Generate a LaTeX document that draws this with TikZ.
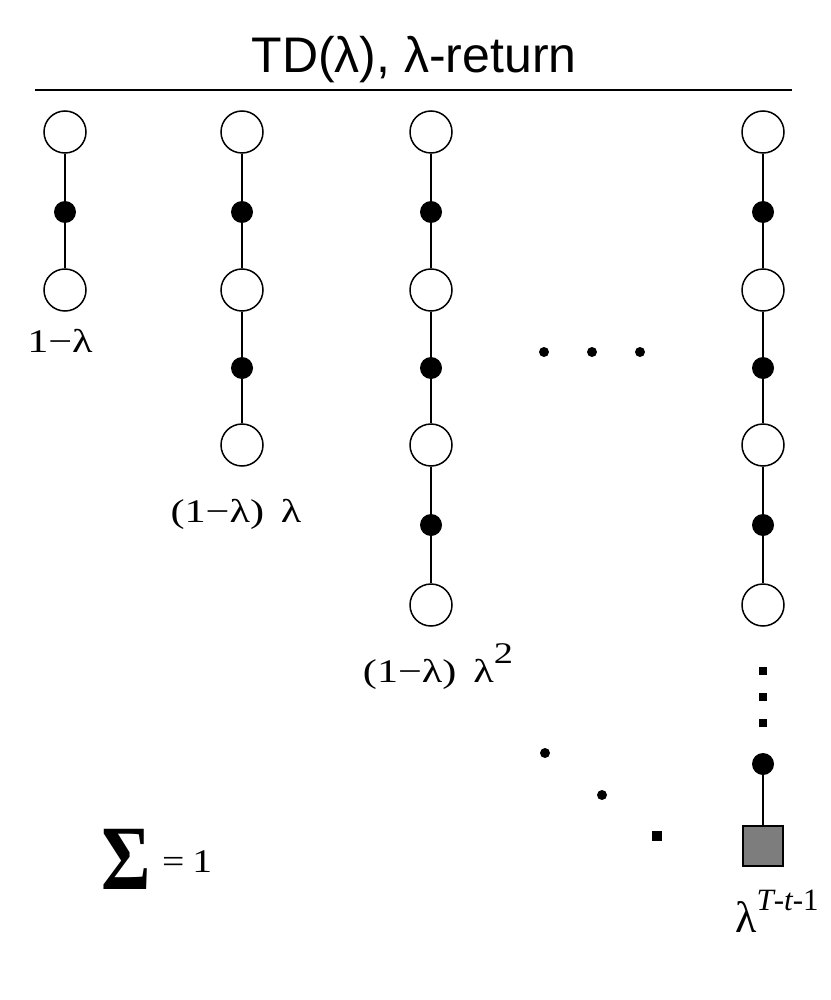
\documentclass[tikz,border=0pt]{standalone}
\usepackage{fontspec}
\setmainfont{Liberation Serif}
\newfontfamily\sansf{Liberation Sans}
\definecolor{termgray}{RGB}{125,125,125}
\begin{document}
\begin{tikzpicture}[x=1pt,y=-1pt,
 state/.style={circle,draw,line width=1.5pt,minimum size=42pt,inner sep=0pt,fill=white},
 act/.style={circle,fill=black,minimum size=22pt,inner sep=0pt},
 term/.style={rectangle,draw,line width=1.8pt,fill=termgray,minimum size=40pt,inner sep=0pt},
 dotn/.style={circle,fill=black,minimum size=10pt,inner sep=0pt},
 sdot/.style={rectangle,fill=black,minimum size=8pt,inner sep=0pt},
 lbl/.style={font=\fontsize{33}{36}\selectfont,anchor=base,inner sep=0pt,xscale=1.28,transform shape},
 link/.style={line width=1.5pt}]
\useasboundingbox (0,0) rectangle (830,1000);
% title
\node[font=\sansf\fontsize{50}{56}\selectfont,anchor=base,inner sep=0pt] (title) at (414,73) {TD(λ), λ-return};
\coordinate (rl) at (35,90);
\coordinate (rr) at (792,90);
\draw[line width=1.6pt] (rl) -- (rr);
% column 1
\node[state] (a1) at (65,132) {};
\node[act]   (a2) at (65,212) {};
\node[state] (a3) at (65,290) {};
\draw[link] (a1) -- (a2); \draw[link] (a2) -- (a3);
\node[lbl] (la) at (60,352) {1−λ};
% column 2
\node[state] (b1) at (242,132) {};
\node[act]   (b2) at (242,212) {};
\node[state] (b3) at (242,290) {};
\node[act]   (b4) at (242,368) {};
\node[state] (b5) at (242,445) {};
\draw[link] (b1) -- (b2); \draw[link] (b2) -- (b3);
\draw[link] (b3) -- (b4); \draw[link] (b4) -- (b5);
\node[lbl] (lb) at (236,522) {(1−λ)\hspace{0.4em}λ};
% column 3
\node[state] (c1) at (431,132) {};
\node[act]   (c2) at (431,212) {};
\node[state] (c3) at (431,290) {};
\node[act]   (c4) at (431,368) {};
\node[state] (c5) at (431,445) {};
\node[act]   (c6) at (431,525) {};
\node[state] (c7) at (431,605) {};
\draw[link] (c1) -- (c2); \draw[link] (c2) -- (c3);
\draw[link] (c3) -- (c4); \draw[link] (c4) -- (c5);
\draw[link] (c5) -- (c6); \draw[link] (c6) -- (c7);
\node[lbl] (lc) at (438,682) {(1−λ)\hspace{0.4em}λ\raisebox{0.55em}{\fontsize{30}{32}\selectfont 2}};
% column 4
\node[state] (d1) at (763,132) {};
\node[act]   (d2) at (763,212) {};
\node[state] (d3) at (763,290) {};
\node[act]   (d4) at (763,368) {};
\node[state] (d5) at (763,445) {};
\node[act]   (d6) at (763,525) {};
\node[state] (d7) at (763,605) {};
\draw[link] (d1) -- (d2); \draw[link] (d2) -- (d3);
\draw[link] (d3) -- (d4); \draw[link] (d4) -- (d5);
\draw[link] (d5) -- (d6); \draw[link] (d6) -- (d7);
\node[sdot] (v1) at (763,671) {};
\node[sdot] (v2) at (763,697) {};
\node[sdot] (v3) at (763,723) {};
\node[act]  (d8) at (763,764) {};
\node[term] (d9) at (763,846) {};
\draw[link] (d8) -- (d9);
\node[anchor=base,inner sep=0pt,font=\fontsize{44}{48}\selectfont] (ld) at (777,932)
  {λ\raisebox{0.5em}{\fontsize{31}{34}\selectfont\itshape T\upshape -\itshape t\upshape -1}};
% horizontal ellipsis
\node[dotn] (h1) at (544,352) {};
\node[dotn] (h2) at (592,352) {};
\node[dotn] (h3) at (640,352) {};
% diagonal ellipsis
\node[dotn] (g1) at (545,753) {};
\node[dotn] (g2) at (602,795) {};
\node[sdot,minimum size=10pt] (g3) at (657,836) {};
% sum
\node[anchor=base west,inner sep=0pt,font=\fontsize{92}{96}\selectfont\bfseries,xscale=0.82,transform shape] (sum) at (101,889) {Σ};
\node[anchor=base west,inner sep=0pt,font=\fontsize{33}{36}\selectfont,xscale=1.2,transform shape] (eq) at (162,872) {=\hspace{0.2em}1};
\end{tikzpicture}
\end{document}
